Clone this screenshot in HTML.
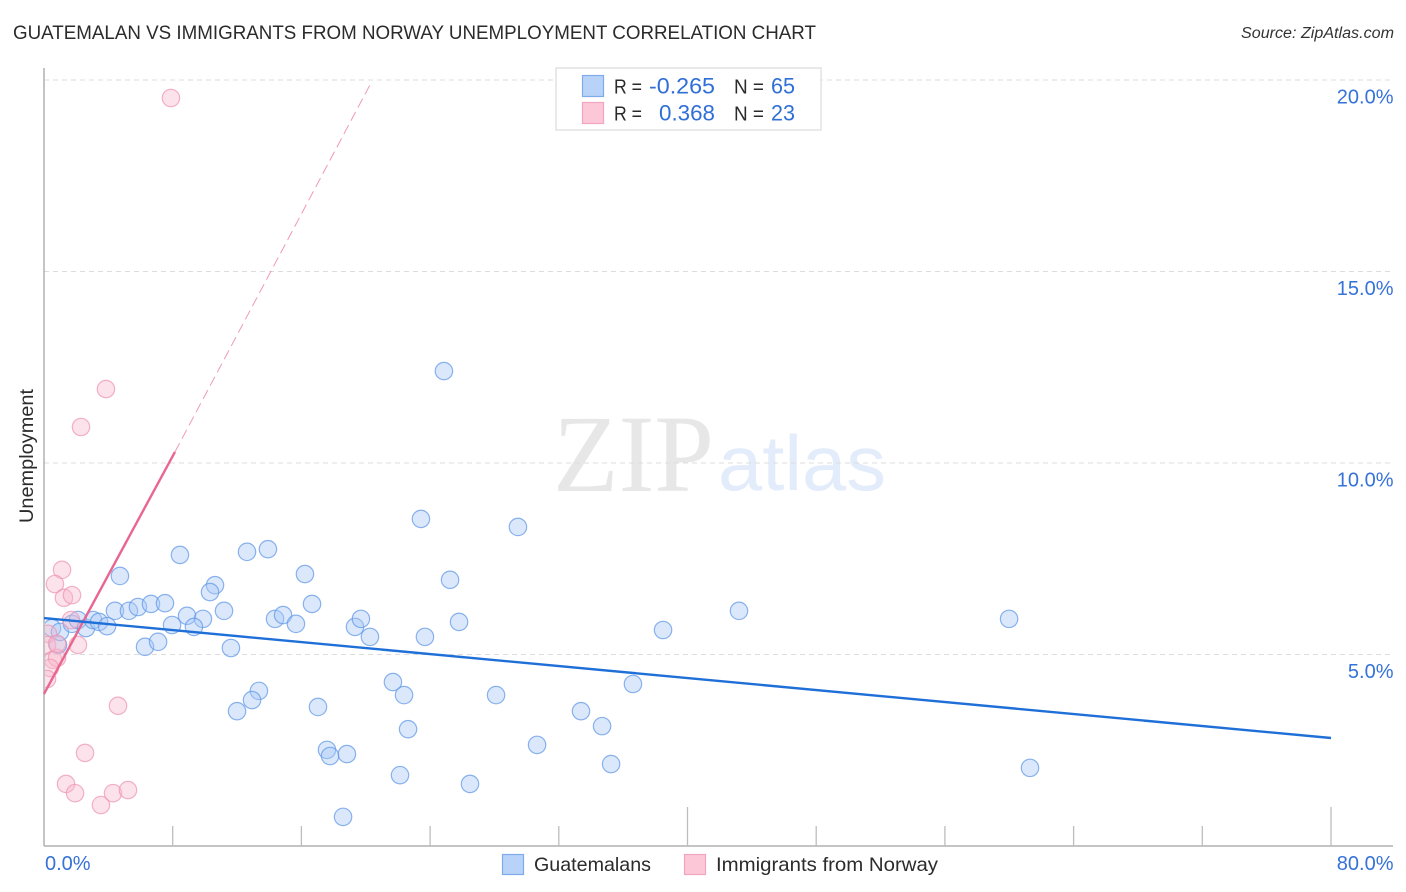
<!DOCTYPE html>
<html lang="en">
<head>
<meta charset="utf-8">
<title>Guatemalan vs Immigrants from Norway Unemployment Correlation Chart</title>
<style>
html,body{margin:0;padding:0;background:#fff;}
svg{display:block;}
text{font-family:"Liberation Sans",sans-serif;}
</style>
</head>
<body>
<svg id="chart" xmlns="http://www.w3.org/2000/svg" width="1406" height="892" viewBox="0 0 1406 892">
  <defs>
    <clipPath id="plot-clip"><rect x="45" y="60" width="1350" height="786"/></clipPath>
  </defs>
  <text x="13" y="39" font-size="19.5" fill="#2b2b2b" textLength="803" lengthAdjust="spacingAndGlyphs">GUATEMALAN VS IMMIGRANTS FROM NORWAY UNEMPLOYMENT CORRELATION CHART</text>
  <text x="1241" y="38" font-size="15.5" font-style="italic" fill="#333" textLength="153" lengthAdjust="spacingAndGlyphs">Source: ZipAtlas.com</text>
  <g id="watermark">
    <text x="553" y="491" font-size="110" fill="#e7e7e7" style="font-family:'Liberation Serif',serif" textLength="161" lengthAdjust="spacingAndGlyphs">ZIP</text>
    <text x="718" y="490" font-size="78" fill="#e3ecfa" textLength="168" lengthAdjust="spacingAndGlyphs">atlas</text>
  </g>
  <g id="grid"></g>
  <g id="axes"></g>
  <g id="series-blue" clip-path="url(#plot-clip)"></g>
  <g id="series-pink" clip-path="url(#plot-clip)"></g>
  <g id="trends"></g>
  <text transform="translate(33,456) rotate(-90)" text-anchor="middle" font-size="19" fill="#2b2b2b" textLength="134" lengthAdjust="spacingAndGlyphs">Unemployment</text>

  <g>
    <rect x="556" y="68" width="265" height="62" fill="#fff" stroke="#e2e2e2" stroke-width="1.5"/>
    <rect x="582.5" y="75.5" width="21" height="21" fill="#b9d3f8" stroke="#7fabea" stroke-width="1.2"/>
    <rect x="582.5" y="102.5" width="21" height="21" fill="#fcc8d8" stroke="#f2a5bf" stroke-width="1.2"/>
    <text x="614" y="93.5" font-size="20" fill="#2b2b2b" textLength="28" lengthAdjust="spacingAndGlyphs">R =</text>
    <text x="649" y="93.5" font-size="22" fill="#2f6fd6" textLength="66" lengthAdjust="spacingAndGlyphs">-0.265</text>
    <text x="734" y="93.5" font-size="20" fill="#2b2b2b" textLength="30" lengthAdjust="spacingAndGlyphs">N =</text>
    <text x="771" y="93.5" font-size="22" fill="#2f6fd6" textLength="24" lengthAdjust="spacingAndGlyphs">65</text>
    <text x="614" y="120.5" font-size="20" fill="#2b2b2b" textLength="28" lengthAdjust="spacingAndGlyphs">R =</text>
    <text x="659" y="120.5" font-size="22" fill="#2f6fd6" textLength="56" lengthAdjust="spacingAndGlyphs">0.368</text>
    <text x="734" y="120.5" font-size="20" fill="#2b2b2b" textLength="30" lengthAdjust="spacingAndGlyphs">N =</text>
    <text x="771" y="120.5" font-size="22" fill="#2f6fd6" textLength="24" lengthAdjust="spacingAndGlyphs">23</text>
  </g>

  <g>
    <rect x="502.5" y="854.5" width="21" height="20" fill="#b9d3f8" stroke="#7fabea" stroke-width="1.2"/>
    <text x="534" y="871" font-size="19.5" fill="#2b2b2b" textLength="117" lengthAdjust="spacingAndGlyphs">Guatemalans</text>
    <rect x="684.5" y="854.5" width="21" height="20" fill="#fcc8d8" stroke="#f2a5bf" stroke-width="1.2"/>
    <text x="716" y="871" font-size="19.5" fill="#2b2b2b" textLength="222" lengthAdjust="spacingAndGlyphs">Immigrants from Norway</text>
  </g>
</svg>
<script>
const blueX = [24.86,23.43,29.46,8.45,12.62,13.92,16.22,4.72,10.63,10.32,25.24,4.41,5.28,5.84,6.65,7.52,16.66,11.19,8.89,9.88,7.96,9.32,14.36,14.86,15.66,19.33,19.70,20.26,23.68,25.80,38.48,43.20,59.99,6.28,7.09,11.62,21.69,22.38,13.36,12.93,12.00,17.03,22.63,28.10,36.61,33.38,34.69,17.59,17.78,18.83,30.65,35.25,22.13,26.48,61.29,18.59,0.50,0.87,0.99,1.74,2.11,2.61,3.05,3.42,3.92];
const blueY = [12.40,8.54,8.33,7.60,7.68,7.75,7.10,7.05,6.81,6.63,6.95,6.14,6.14,6.24,6.32,6.34,6.32,6.14,6.01,5.93,5.77,5.72,5.93,6.03,5.80,5.72,5.93,5.46,5.46,5.85,5.64,6.14,5.93,5.20,5.33,5.17,4.28,3.94,4.05,3.81,3.52,3.63,3.05,3.94,4.23,3.52,3.13,2.51,2.35,2.40,2.64,2.14,1.85,1.62,2.04,0.76,5.69,5.25,5.59,5.80,5.90,5.69,5.90,5.85,5.74];
const pinkX = [7.89,3.85,2.30,1.12,0.68,1.24,1.74,1.68,2.11,0.25,0.19,0.56,0.81,0.37,4.60,2.55,1.37,1.93,3.54,4.29,5.22,0.81,0.19];
const pinkY = [19.53,11.93,10.94,7.21,6.84,6.48,6.55,5.90,5.25,5.54,5.25,4.86,4.91,4.65,3.66,2.43,1.62,1.38,1.07,1.38,1.46,5.28,4.36];
const blueTrendX = [0,80];
const blueTrendY = [5.95,2.82];
const pinkSolidX = [0,8.14];
const pinkSolidY = [3.97,10.29];
const pinkDashX = [8.14,20.26];
const pinkDashY = [10.29,19.87];
const yTicks = [5,10,15,20];
const yTickLabels = ["5.0%","10.0%","15.0%","20.0%"];
const xTicks = [8,16,24,32,40,48,56,64,72,80];
const xMajorTicks = [40,80];
const xEndTicks = [0,80];
const xEndLabels = ["0.0%","80.0%"];

const NS = "http://www.w3.org/2000/svg";
function sx(v){ return 44 + v * (1331 - 44) / 80; }
function sy(v){ return 846 - v * (846 - 80) / 20; }
function mk(parent, tag, attrs, txt){
  const el = document.createElementNS(NS, tag);
  for (const k in attrs) el.setAttribute(k, attrs[k]);
  if (txt !== undefined) el.textContent = txt;
  parent.appendChild(el);
  return el;
}
const grid = document.getElementById('grid');
const axes = document.getElementById('axes');

yTicks.forEach(function(t, i){
  const line = mk(grid, 'line', {x1:44, x2:1393, y1:sy(t), y2:sy(t), stroke:'#dcdcdc', 'stroke-width':1, 'stroke-dasharray':'5 4'});
  
  
  const label = mk(axes, 'text', {x:1393.5, y:sy(t) + 23.5, 'text-anchor':'end', 'font-size':20, fill:'#3672d8'}, yTickLabels[i]);
  
  
});

const yAxis = mk(axes, 'line', {x1:44, x2:44, y1:68, y2:846, stroke:'#b0b0b0', 'stroke-width':1.5});


const xAxis = mk(axes, 'line', {x1:44, x2:1393, y1:846, y2:846, stroke:'#b0b0b0', 'stroke-width':1.5});



xTicks.forEach(function(t){
  const top = xMajorTicks.indexOf(t) >= 0 ? 807 : 826;
  const tick = mk(axes, 'line', {x1:sx(t), x2:sx(t), y1:top, y2:846, stroke:'#bdbdbd', 'stroke-width':1.3});
  
  
});

xEndTicks.forEach(function(t, i){
  const attrs = i === 0 ? {x:45, 'text-anchor':'start'} : {x:1393.5, 'text-anchor':'end'};
  attrs.y = 870;
  attrs['font-size'] = 20;
  attrs.fill = '#3672d8';
  const label = mk(axes, 'text', attrs, xEndLabels[i]);
  
  
});

const blueGroup = document.getElementById('series-blue');
blueX.forEach(function(v, i){
  const c = mk(blueGroup, 'circle', {cx:sx(v), cy:sy(blueY[i]), r:8.7, fill:'#a9c9f7', 'fill-opacity':0.42, stroke:'#5f97e6', 'stroke-opacity':0.72, 'stroke-width':1.2});
  
  
});

const pinkGroup = document.getElementById('series-pink');
pinkX.forEach(function(v, i){
  const c = mk(pinkGroup, 'circle', {cx:sx(v), cy:sy(pinkY[i]), r:8.7, fill:'#f9b9cd', 'fill-opacity':0.42, stroke:'#ee94b2', 'stroke-opacity':0.72, 'stroke-width':1.2});
  
  
});

const trends = document.getElementById('trends');
const pinkDash = mk(trends, 'line', {x1:sx(pinkDashX[0]), y1:sy(pinkDashY[0]), x2:sx(pinkDashX[1]), y2:sy(pinkDashY[1]), stroke:'#ee9ab5', 'stroke-width':1, 'stroke-dasharray':'10 5'});


const pinkSolid = mk(trends, 'line', {x1:sx(pinkSolidX[0]), y1:sy(pinkSolidY[0]), x2:sx(pinkSolidX[1]), y2:sy(pinkSolidY[1]), stroke:'#e8668f', 'stroke-width':2.4});


const blueTrend = mk(trends, 'line', {x1:sx(blueTrendX[0]), y1:sy(blueTrendY[0]), x2:sx(blueTrendX[1]), y2:sy(blueTrendY[1]), stroke:'#1f6fd8', 'stroke-width':2.4});


</script>
</body>
</html>
